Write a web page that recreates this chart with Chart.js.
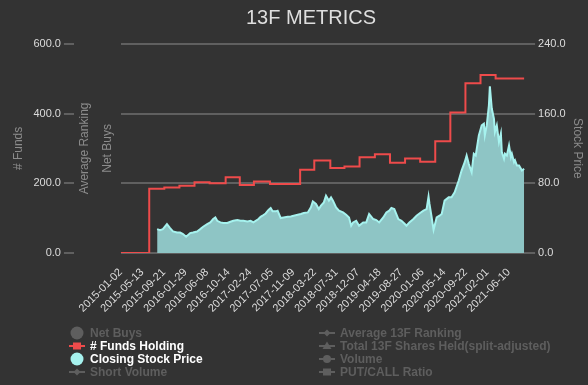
<!DOCTYPE html>
<html>
<head>
<meta charset="utf-8">
<script src="https://cdn.jsdelivr.net/npm/chart.js@4.4.0/dist/chart.umd.min.js"></script>
<style>
  html, body { margin: 0; padding: 0; background: #333333; }
  #wrap { width: 588px; height: 385px; position: relative; }
  canvas { display: block; }
</style>
</head>
<body>
<div id="wrap"><canvas id="c" width="588" height="385"></canvas></div>
<script>
// ---------- DATA ----------
const chartTitle = '13F METRICS';
// x tick labels (one every 90 trading days)
const tickLabels = ['2015-01-02','2015-05-13','2015-09-21','2016-01-29','2016-06-08','2016-10-14',
  '2017-02-24','2017-07-05','2017-11-09','2018-03-22','2018-07-31','2018-12-07','2019-04-18',
  '2019-08-27','2020-01-06','2020-05-14','2020-09-22','2021-02-01','2021-06-10'];
const tradingDaysPerTick = 90;
const lastTradingDay = 1688;

// # Funds Holding (quarterly steps): trading-day index where each level starts, and the level
const fundsDays   = [0, 119, 182, 245, 308, 371, 438, 497, 556, 623, 749, 808, 875, 934, 997, 1061, 1124, 1187, 1250, 1313, 1376, 1439, 1502, 1565, 1684];
const fundsValues = [0, 184, 188, 193, 203, 200, 217, 195, 205, 198, 239, 265, 244, 248, 275, 283, 259, 271, 262, 321, 403, 487, 511, 501, 501];

// Closing Stock Price: trading-day index and price
const priceDays = [152,164,176,193,206,218,235,248,260,273,290,302,319,332,344,361,374,386,395,403,
  416,428,445,458,470,487,500,512,529,542,554,575,584,592,605,617,626,634,647,655,
  668,680,697,710,722,739,752,764,781,794,802,815,827,836,848,857,869,878,886,899,
  911,928,941,953,962,970,983,995,1012,1025,1037,1054,1067,1079,1096,1109,1121,1130,1142,1159,
  1172,1184,1193,1205,1222,1235,1247,1264,1277,1285,1289,1297,1306,1319,1331,1340,1352,1369,1381,1394,
  1411,1423,1436,1444,1453,1465,1474,1482,1495,1507,1516,1520,1528,1537,1541,1549,1558,1562,1570,1579,
  1587,1591,1600,1604,1612,1621,1629,1633,1642,1646,1654,1663,1667,1675,1684];
const priceValues = [27.3,26.2,27.3,33.1,28.5,24.6,23.4,23.4,21.6,18.5,22.7,23.4,24.6,27.3,30.0,33.1,35.0,38.9,40.7,36.9,
  35.0,34.3,34.3,35.8,36.9,37.7,36.9,36.9,36.1,36.9,35.0,38.9,41.5,42.7,45.3,49.3,51.6,47.7,47.7,48.5,
  40.0,40.7,41.5,41.9,42.7,43.8,44.7,45.8,46.5,52.3,59.2,56.2,50.4,54.2,58.0,65.8,60.0,63.8,60.0,52.3,
  48.5,46.5,43.8,40.7,31.2,35.0,36.9,31.2,35.0,35.0,44.7,38.9,37.7,35.0,40.7,46.5,48.5,51.6,50.4,38.9,
  36.9,33.8,31.2,35.0,38.9,42.7,45.3,48.5,50.4,64.6,56.2,42.7,26.5,40.7,42.7,44.7,60.0,63.8,63.8,69.6,
  83.1,94.6,104.2,111.9,102.3,92.6,113.9,111.9,135.0,146.5,148.5,135.0,146.5,169.6,191.5,165.8,154.3,138.8,146.5,127.3,
  137.0,115.7,108.1,113.9,111.9,123.5,110.0,113.9,104.2,106.2,100.4,100.4,98.4,94.6,96.6];

// Legend / series names
const seriesNames = ['Net Buys', '# Funds Holding', 'Closing Stock Price', 'Short Volume',
  'Average 13F Ranking', 'Total 13F Shares Held(split-adjusted)', 'Volume', 'PUT/CALL Ratio'];

// ---------- STYLE ----------
const FONT = '"Liberation Sans", Arial, Helvetica, sans-serif';
const RED = '#ee4b4b';
const CYAN_LINE = '#a6f2ee';
const CYAN_FILL = '#8ec5c5';
const GRID = '#606060';
const TICK = '#dcdcdc';
const AXIS_TITLE = '#8c8c8c';
const HIDDEN = '#5e5e5e';

Chart.defaults.font.family = FONT;

const pairs = (xs, ys) => xs.map((x, i) => ({ x: x, y: ys[i] }));

const datasets = [
  { label: seriesNames[0], data: [], hidden: true, yAxisID: 'netbuys', legendIcon: 'circle', legendColor: HIDDEN },
  { label: seriesNames[1], data: pairs(fundsDays, fundsValues), yAxisID: 'funds', stepped: 'before',
    borderColor: RED, borderWidth: 2, pointRadius: 0, fill: false, legendIcon: 'lineRect', legendColor: RED },
  { label: seriesNames[2], data: pairs(priceDays, priceValues), yAxisID: 'price',
    borderColor: CYAN_LINE, backgroundColor: CYAN_FILL, borderWidth: 2, pointRadius: 0, tension: 0,
    fill: 'origin', legendIcon: 'circle', legendColor: CYAN_LINE },
  { label: seriesNames[3], data: [], hidden: true, yAxisID: 'funds', legendIcon: 'lineDiamond', legendColor: HIDDEN },
  { label: seriesNames[4], data: [], hidden: true, yAxisID: 'rank', legendIcon: 'lineDiamond', legendColor: HIDDEN },
  { label: seriesNames[5], data: [], hidden: true, yAxisID: 'funds', legendIcon: 'lineTriangle', legendColor: HIDDEN },
  { label: seriesNames[6], data: [], hidden: true, yAxisID: 'funds', legendIcon: 'lineCircle', legendColor: HIDDEN },
  { label: seriesNames[7], data: [], hidden: true, yAxisID: 'funds', legendIcon: 'lineRect', legendColor: HIDDEN }
];

function drawIcon(ctx, type, cx, cy, color) {
  ctx.fillStyle = color;
  ctx.strokeStyle = color;
  if (type === 'circle') {
    ctx.beginPath(); ctx.arc(cx, cy, 6.5, 0, Math.PI * 2); ctx.fill();
    return;
  }
  ctx.lineWidth = 2;
  ctx.beginPath(); ctx.moveTo(cx - 8, cy); ctx.lineTo(cx + 8, cy); ctx.stroke();
  ctx.beginPath();
  if (type === 'lineRect') {
    ctx.rect(cx - 4, cy - 3.5, 8, 7);
  } else if (type === 'lineCircle') {
    ctx.arc(cx, cy, 4, 0, Math.PI * 2);
  } else if (type === 'lineTriangle') {
    ctx.moveTo(cx, cy - 4.5); ctx.lineTo(cx + 4.5, cy + 3); ctx.lineTo(cx - 4.5, cy + 3); ctx.closePath();
  } else if (type === 'lineDiamond') {
    ctx.moveTo(cx, cy - 3.5); ctx.lineTo(cx + 3.5, cy); ctx.lineTo(cx, cy + 3.5); ctx.lineTo(cx - 3.5, cy); ctx.closePath();
  }
  ctx.fill();
}

const titleAndLegend = {
  id: 'titleAndLegend',
  afterDraw(chart) {
    const ctx = chart.ctx;
    ctx.save();
    // title
    ctx.font = '20px ' + FONT;
    ctx.fillStyle = '#dedede';
    ctx.textAlign = 'center';
    ctx.textBaseline = 'middle';
    ctx.fillText(chartTitle, 311, 18);
    // legend (two columns of four)
    ctx.font = 'bold 12px ' + FONT;
    ctx.textAlign = 'left';
    chart.data.datasets.forEach((ds, i) => {
      const col = Math.floor(i / 4), row = i % 4;
      const cx = col === 0 ? 77 : 327;
      const cy = 333 + row * 13;
      const visible = chart.isDatasetVisible(i);
      drawIcon(ctx, ds.legendIcon, cx, cy, visible ? ds.legendColor : HIDDEN);
      ctx.fillStyle = visible ? '#ffffff' : HIDDEN;
      ctx.fillText(ds.label, cx + 13, cy + 0.5);
    });
    ctx.restore();
  }
};

new Chart(document.getElementById('c'), {
  type: 'line',
  data: { datasets: datasets },
  plugins: [titleAndLegend],
  options: {
    responsive: false,
    animation: false,
    layout: { padding: { left: 11, right: 0, top: 44, bottom: 67 } },
    plugins: { legend: { display: false }, title: { display: false }, tooltip: { enabled: false } },
    scales: {
      x: {
        type: 'linear', min: 0, max: lastTradingDay,
        grid: { display: false, drawTicks: true, tickLength: 10 },
        border: { display: false },
        afterBuildTicks: (axis) => { axis.ticks = tickLabels.map((_, i) => ({ value: i * tradingDaysPerTick })); },
        ticks: {
          autoSkip: false, minRotation: 45, maxRotation: 45, padding: 3,
          color: TICK, font: { size: 11 },
          callback: (v) => { const k = Math.round(v / tradingDaysPerTick); return tickLabels[k] || ''; }
        }
      },
      netbuys: {
        position: 'left',
        ticks: { display: false },
        grid: { display: false, drawTicks: false },
        border: { display: false },
        title: { display: true, text: 'Net Buys', color: AXIS_TITLE, font: { size: 12 }, padding: { top: 4, bottom: 6 } }
      },
      rank: {
        position: 'left',
        ticks: { display: false },
        grid: { display: false, drawTicks: false },
        border: { display: false },
        title: { display: true, text: 'Average Ranking', color: AXIS_TITLE, font: { size: 12 }, padding: { top: 4, bottom: 4 } }
      },
      funds: {
        position: 'left', min: 0, max: 600,
        ticks: { stepSize: 200, color: TICK, font: { size: 11 }, padding: 3, callback: (v) => Number(v).toFixed(1) },
        grid: { color: GRID, lineWidth: 2, tickLength: 10 },
        border: { display: false },
        title: { display: true, text: '# Funds', color: AXIS_TITLE, font: { size: 12 }, padding: { top: 0, bottom: 5 } }
      },
      price: {
        position: 'right', min: 0, max: 240,
        ticks: { stepSize: 80, color: TICK, font: { size: 11 }, padding: 3, callback: (v) => Number(v).toFixed(1) },
        grid: { drawOnChartArea: false, color: GRID, lineWidth: 2, tickLength: 10 },
        border: { display: false },
        title: { display: true, text: 'Stock Price', color: AXIS_TITLE, font: { size: 12 }, padding: { top: 3, bottom: 2 } }
      }
    }
  }
});
</script>
</body>
</html>
